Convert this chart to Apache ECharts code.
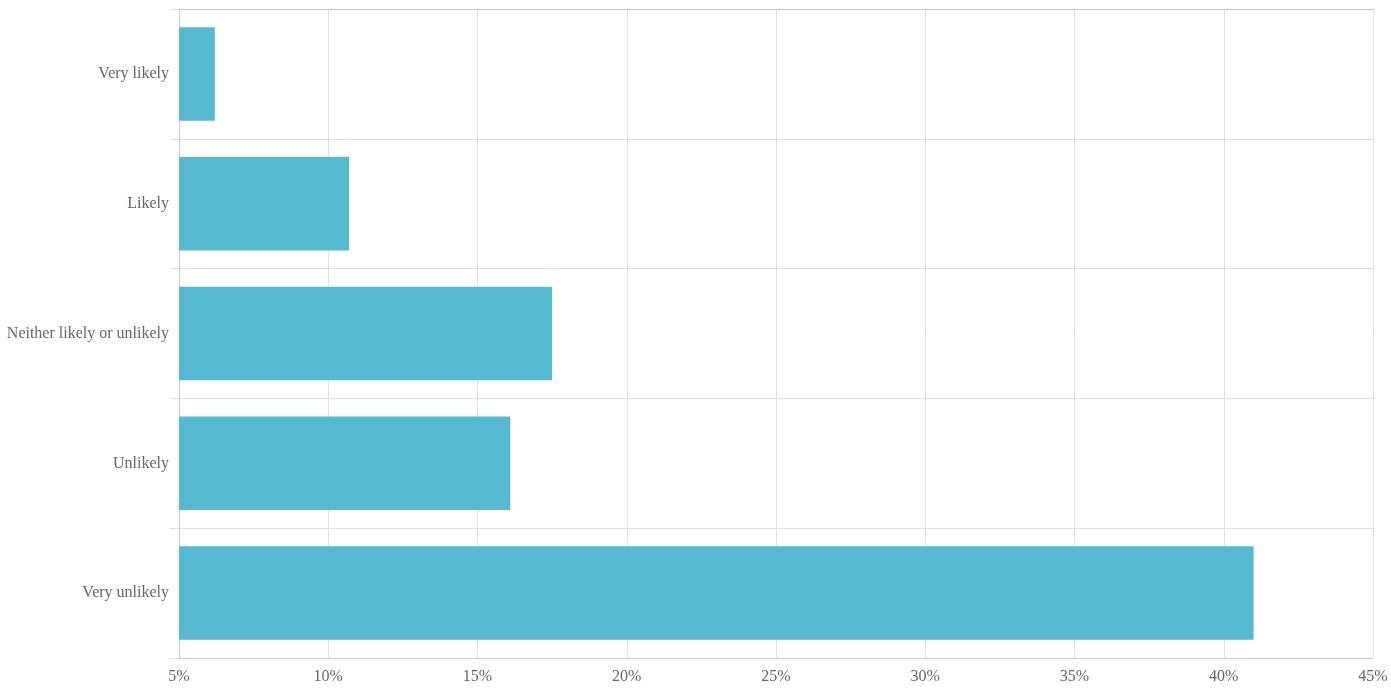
<!DOCTYPE html>
<html>
<head>
<meta charset="utf-8">
<script src="https://cdn.jsdelivr.net/npm/echarts@6/dist/echarts.min.js"></script>
<style>html,body{margin:0;padding:0;background:#fff}#c{width:1391px;height:695px}</style>
</head>
<body>
<div id="c"></div>
<script>
const categories = ['Very likely', 'Likely', 'Neither likely or unlikely', 'Unlikely', 'Very unlikely'];
const values = [6.2, 10.7, 17.5, 16.1, 41.0];
const xTicks = [5, 10, 15, 20, 25, 30, 35, 40, 45];

const chart = echarts.init(document.getElementById('c'));
const font = '"Liberation Serif", "DejaVu Serif", serif';
chart.setOption({
  animation: false,
  grid: { left: 179, right: 18, top: 9, bottom: 37, containLabel: false },
  xAxis: [{
    type: 'value',
    min: xTicks[0], max: xTicks[xTicks.length - 1], interval: 5,
    position: 'bottom',
    axisLine: { show: true, lineStyle: { color: '#cccccc' } },
    axisTick: { show: false },
    axisLabel: { formatter: v => v + '%', color: '#666', fontFamily: font, fontSize: 16, margin: 11 },
    splitLine: { show: true, lineStyle: { color: '#e0e0e0' } }
  }, {
    type: 'value',
    min: xTicks[0], max: xTicks[xTicks.length - 1], interval: 5,
    position: 'top',
    axisLine: { show: true, lineStyle: { color: '#c4c4c4' } },
    axisTick: { show: false },
    axisLabel: { show: false },
    splitLine: { show: false }
  }],
  yAxis: {
    type: 'category',
    data: categories,
    inverse: true,
    axisLine: { show: true, lineStyle: { color: '#cccccc' } },
    axisTick: { show: true, length: 9, lineStyle: { color: '#dddddd' } },
    axisLabel: { color: '#666', fontFamily: font, fontSize: 16, margin: 10 },
    splitLine: { show: true, lineStyle: { color: '#e0e0e0' } }
  },
  series: [{
    type: 'bar',
    data: values,
    barCategoryGap: '28%',
    itemStyle: { color: '#55b9d0' }
  }]
});
</script>
</body>
</html>
